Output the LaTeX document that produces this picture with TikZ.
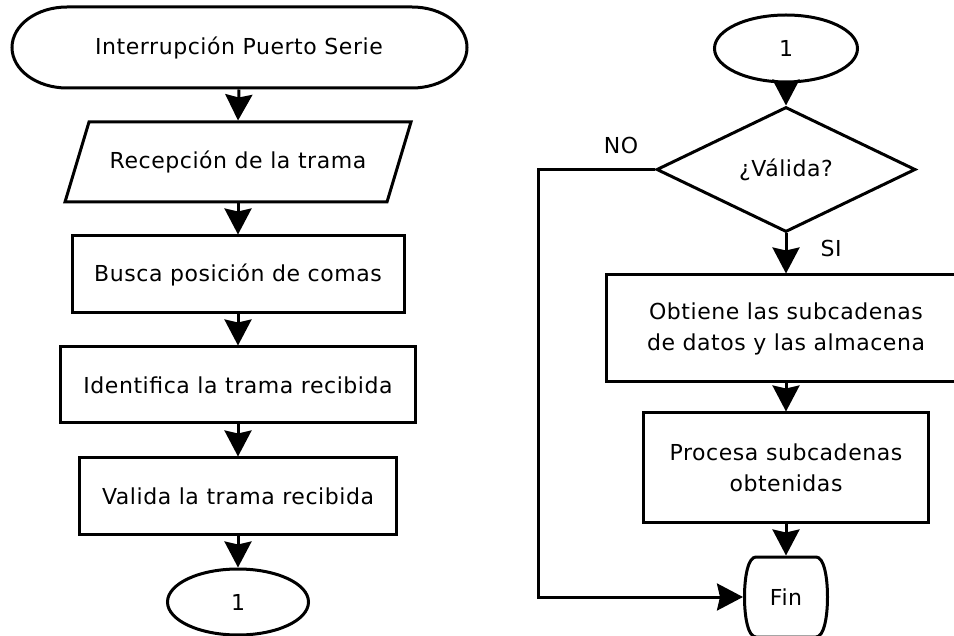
\documentclass[tikz,border=0pt]{standalone}
\usepackage{fontspec}
\setmainfont{DejaVu Sans}[LetterSpace=2.5]
\usetikzlibrary{arrows.meta,shapes.geometric}
\begin{document}
\begin{tikzpicture}[x=1pt,y=-1pt,line width=3pt,
  every node/.style={font=\fontsize{22}{31}\selectfont,inner sep=0pt,align=center},
  procbox/.style={draw,rectangle,minimum width=#1},
  ghost/.style={draw=none,rectangle},
  conn/.style={ellipse,draw},
  arr/.style={-{Stealth[length=26pt,width=27pt,inset=3pt]}},
  lbl/.style={font=\fontsize{22}{26}\selectfont}]
\path[use as bounding box,clip] (0,0) rectangle (954,636);
\fill[white] (0,0) rectangle (954,636);

% left column
\node[ghost,minimum width=455,minimum height=81] (st) at (239,47.5) {Interrupción Puerto Serie};
\draw (67,7) -- (412,7) arc[start angle=-90,end angle=90,x radius=55,y radius=40.5]
      -- (67,88) arc[start angle=90,end angle=270,x radius=55,y radius=40.5] -- cycle;

\node[ghost,minimum width=300,minimum height=80] (rec) at (238,162) {Recepción de la trama};
\draw (89,122) -- (411,122) -- (387,202) -- (65,202) -- cycle;

\node[procbox=332,minimum height=77] (bus) at (238,274.5) {Busca posición de comas};
\node[procbox=355,minimum height=76] (ide) at (238,385) {Identifica la trama recibida};
\node[procbox=317,minimum height=76] (val) at (238,496) {Valida la trama recibida};
\node[conn,minimum width=141,minimum height=66] (c1) at (238,602) {1};

\draw[arr] (st.south) -- (rec.north);
\draw[arr] (rec.south) -- (bus.north);
\draw[arr] (bus.south) -- (ide.north);
\draw[arr] (ide.south) -- (val.north);
\draw[arr] (val.south) -- (c1.north);

% right column
\node[conn,minimum width=143,minimum height=67] (c2) at (786,48.5) {1};
\node[diamond,draw,minimum width=259,minimum height=125] (dia) at (786,169.5) {¿Válida?};
\node[procbox=360,minimum height=107] (obt) at (786,328.5) {Obtiene las subcadenas\\de datos y las almacena};
\node[procbox=285,minimum height=109] (pro) at (786,467.5) {Procesa subcadenas\\obtenidas};
\node[ghost,minimum width=83,minimum height=80] (fin) at (786,597) {Fin};
\begin{scope}[shift={(fin.center)}]
\draw (-30,-40) -- (30,-40) .. controls (38,-40) and (41.5,-20) .. (41.5,0)
      .. controls (41.5,20) and (38,40) .. (30,40) -- (-30,40)
      .. controls (-38,40) and (-41.5,20) .. (-41.5,0)
      .. controls (-41.5,-20) and (-38,-40) .. (-30,-40) -- cycle;
\end{scope}

\coordinate (nc) at (538,169.5);
\draw[arr] (c2.south) -- (dia.north);
\draw[arr] (dia.south) -- (obt.north);
\draw[arr] (obt.south) -- (pro.north);
\draw[arr] (pro.south) -- (fin.north);
\draw[arr] (dia.west) -- (nc) |- (fin.west);

\node[lbl] (no) at (621,145) {NO};
\node[lbl] (si) at (831,248) {SI};
\end{tikzpicture}
\end{document}
